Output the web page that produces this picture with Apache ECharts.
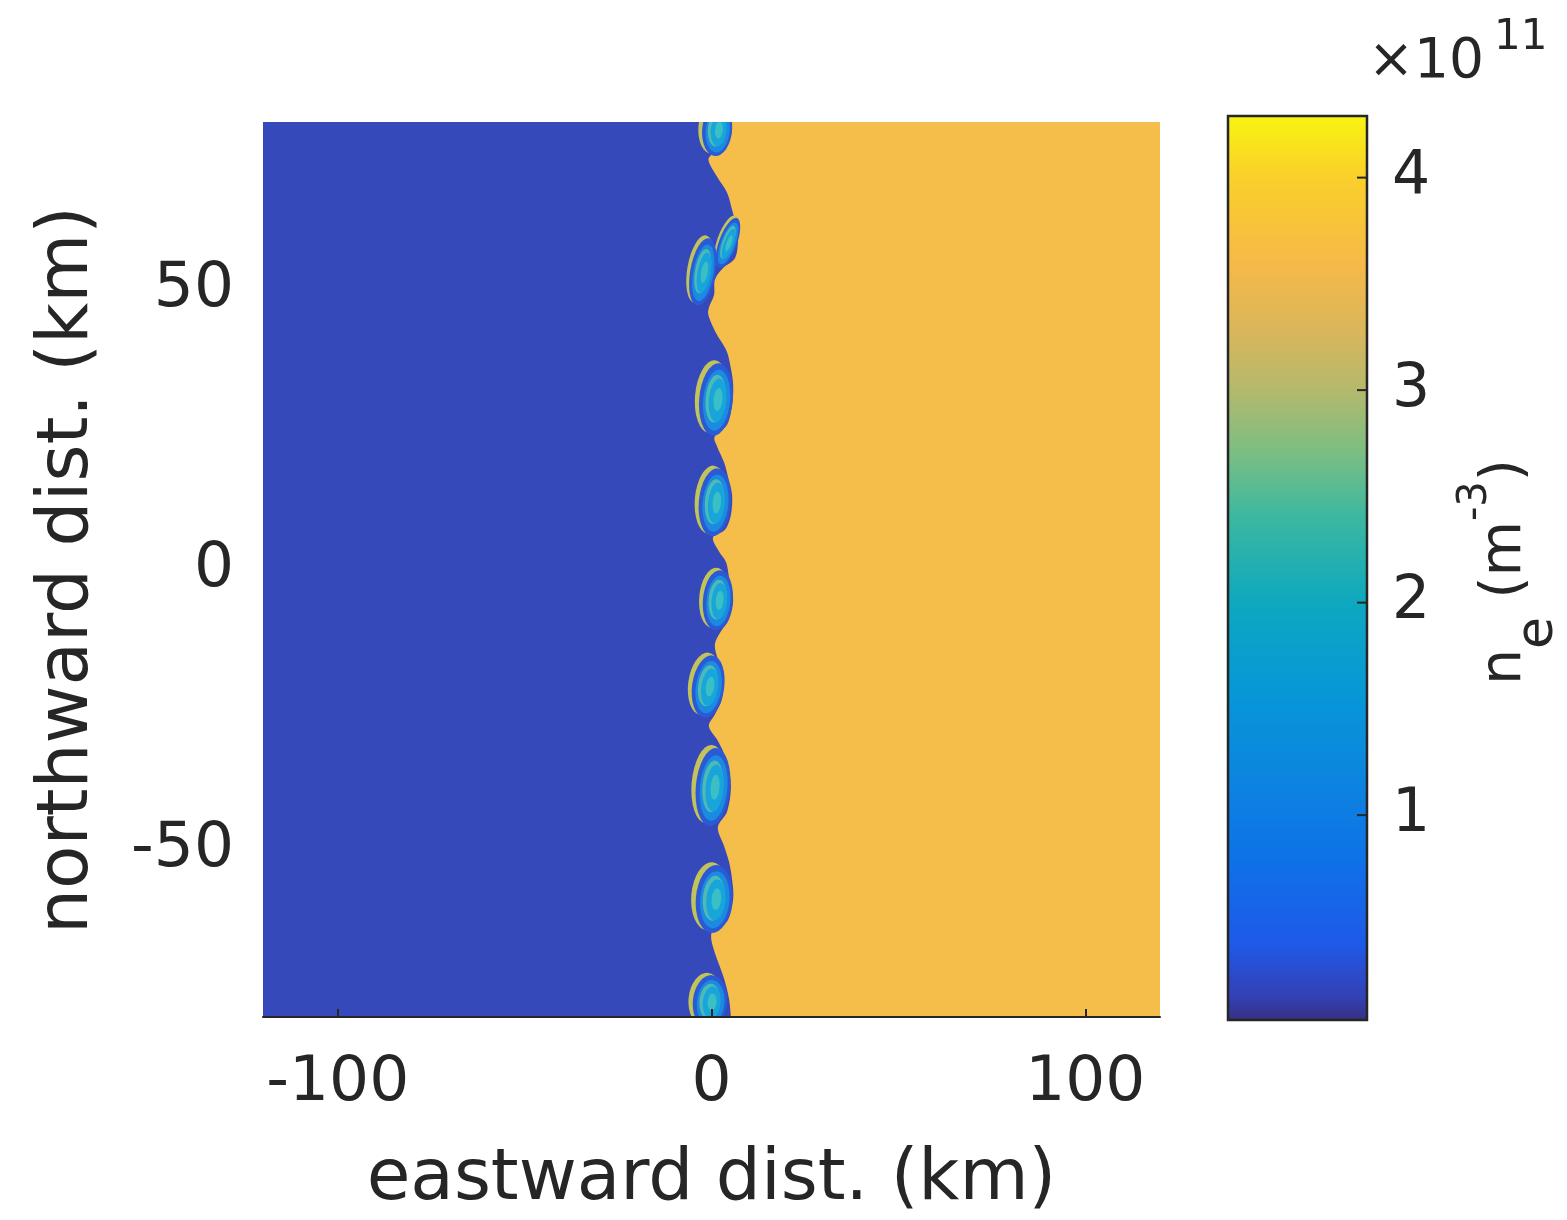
<!DOCTYPE html>
<html><head><meta charset="utf-8">
<script src="https://cdn.jsdelivr.net/npm/echarts@6/dist/echarts.min.js"></script>
<style>html,body{margin:0;padding:0;background:#fff}#c{width:1567px;height:1220px}</style>
</head><body><div id="c"></div>
<script>
// ---- data (km, density in 1e11 m^-3) ----
const xRange = [-120, 120];
const yRange = [-80, 80];
const xTicks = [-100, 0, 100];
const yTicks = [-50, 0, 50];
const cbRange = [0.036, 4.29];
const cbTicks = [1, 2, 3, 4];
// colour bar (value -> colour)
const cbValues = [0.036, 0.15, 0.4, 0.8, 1.2, 1.6, 2.0, 2.4, 2.7, 3.0, 3.3, 3.6, 4.0, 4.29];
const cbColors = ['#36307F', '#3440B5', '#1E5AE8', '#0E72E8', '#0C86DF', '#0798D6', '#0EA8BF', '#3BB8A0', '#7ABE84', '#B4B96C', '#DDB65A', '#F6B947', '#FAD02A', '#F8F510'];
// interface between depleted (west) and dense (east) plasma, north to south
const interfaceX = [5.2,5.2,2.5,-0.1,-0.7,1.5,4.2,5.5,6.6,7.1,6.3,3.1,0.9,0.7,-0.7,-0.7,1.2,3.9,5.0,5.8,5.5,4.2,0.9,1.5,3.4,4.4,5.5,5.2,3.6,0.4,2.0,3.9,4.7,5.8,4.7,2.5,0.9,1.7,3.1,2.8,0.9,-0.7,1.5,3.1,4.4,5.2,4.2,1.7,3.4,4.7,5.5,5.8,4.2,-0.1,3.4,4.7,5.2];
const interfaceY = [80,77.7,75.4,74.1,72.9,70.2,67.3,64.3,61.6,58.9,55.7,53.9,51.8,49.1,46.8,45.2,42.3,39.3,36.6,33.0,29.5,25.9,23.8,22.0,19.1,16.6,13.4,9.8,7.1,5.7,3.2,1.3,-1.4,-5.4,-8.9,-11.1,-13.4,-16.1,-19.6,-23.2,-25.9,-28.0,-30.4,-32.5,-34.8,-38.9,-43.2,-46.1,-49.5,-52.3,-55.4,-58.9,-62.9,-65.5,-73.2,-76.8,-80];
// Kelvin-Helmholtz vortices: centre, semi-axes (km) and tilt (deg)
const vortexX = [1.5, 4.4, -2.3, 1.2, 0.9, 1.7, -0.9, 0.4, 0.7, -0.4];
const vortexY = [78.6, 58.4, 53.2, 30.4, 12.0, -5.5, -20.9, -38.9, -58.9, -77.3];
const vortexRx = [4.0, 2.4, 3.4, 4.5, 4.3, 4.0, 4.3, 4.6, 4.9, 4.6];
const vortexRy = [4.7, 4.7, 6.1, 6.5, 6.1, 5.4, 5.6, 7.0, 6.1, 4.8];
const vortexTilt = [5, 20, 10, 5, 5, 5, 8, 5, 5, 5];

// ---- styles ----
const FONT = 'DejaVu Sans';
const TXT = '#262626';
const westColor = '#3549BA', eastColor = '#F5BD4A';
const rimColor = '#C4C25A', ringColor = '#2A5BD5', midColor = '#1A8BE0', innerColor = '#18A6DA', coreColor = '#3BBFC6', armColor = '#4FB9B6';

function smoothPath(pts) {
  let d = '';
  for (let i = 0; i < pts.length - 1; i++) {
    const p0 = pts[Math.max(i - 1, 0)], p1 = pts[i], p2 = pts[i + 1], p3 = pts[Math.min(i + 2, pts.length - 1)];
    const c1 = [p1[0] + (p2[0] - p0[0]) / 6, p1[1] + (p2[1] - p0[1]) / 6];
    const c2 = [p2[0] - (p3[0] - p1[0]) / 6, p2[1] - (p3[1] - p1[1]) / 6];
    d += ' C' + c1[0] + ',' + c1[1] + ' ' + c2[0] + ',' + c2[1] + ' ' + p2[0] + ',' + p2[1];
  }
  return d;
}

const chart = echarts.init(document.getElementById('c'));
const vortexData = vortexX.map((x, i) => [x, vortexY[i], vortexRx[i], vortexRy[i], vortexTilt[i]]);

const option = {
  animation: false,
  backgroundColor: '#ffffff',
  grid: [
    {left: 263, top: 122, width: 897, height: 895},
    {left: 1228, top: 116, width: 139, height: 904}
  ],
  xAxis: [
    {gridIndex: 0, type: 'value', min: xRange[0], max: xRange[1], z: 10,
     axisLine: {show: true, onZero: false, lineStyle: {color: TXT, width: 2}},
     axisTick: {show: true, inside: true, length: 8, customValues: xTicks, lineStyle: {color: TXT, width: 2}},
     axisLabel: {customValues: xTicks, fontSize: 63, fontFamily: FONT, color: TXT, margin: 35},
     splitLine: {show: false}},
    {gridIndex: 1, type: 'value', min: 0, max: 1, show: false}
  ],
  yAxis: [
    {gridIndex: 0, type: 'value', min: yRange[0], max: yRange[1],
     axisLine: {show: false}, axisTick: {show: false},
     axisLabel: {customValues: yTicks, fontSize: 63, fontFamily: FONT, color: TXT, margin: 29},
     splitLine: {show: false}},
    {gridIndex: 1, type: 'value', position: 'right', min: cbRange[0], max: cbRange[1],
     axisLine: {show: false}, axisTick: {show: false},
     axisLabel: {customValues: cbTicks, fontSize: 60, fontFamily: FONT, color: TXT, margin: 25},
     splitLine: {show: false}}
  ],
  series: [
    {
      type: 'custom', xAxisIndex: 0, yAxisIndex: 0, clip: true, silent: true, z: 1,
      data: [[0, 0]],
      renderItem: function (params, api) {
        const tl = api.coord([xRange[0], yRange[1]]);
        const br = api.coord([xRange[1], yRange[0]]);
        const bl = api.coord([xRange[0], yRange[0]]);
        const pts = interfaceX.map((x, i) => api.coord([x, interfaceY[i]]));
        const d = 'M' + tl[0] + ',' + tl[1] + ' L' + pts[0][0] + ',' + pts[0][1] + smoothPath(pts) + ' L' + bl[0] + ',' + bl[1] + ' Z';
        return {type: 'group', children: [
          {type: 'rect', shape: {x: tl[0], y: tl[1], width: br[0] - tl[0], height: br[1] - tl[1]}, style: {fill: eastColor}},
          {type: 'path', shape: {pathData: d}, style: {fill: westColor}}
        ]};
      }
    },
    {
      type: 'custom', xAxisIndex: 0, yAxisIndex: 0, clip: true, silent: true, z: 2,
      data: vortexData,
      encode: {x: 0, y: 1},
      renderItem: function (params, api) {
        const c = api.coord([api.value(0), api.value(1)]);
        const s = api.size([api.value(2), api.value(3)]);
        const a = s[0], b = s[1];
        const ell = (dx, dy, sx, sy, fill) => ({type: 'circle', x: dx * a, y: dy * b, scaleX: sx * a, scaleY: sy * b,
          shape: {cx: 0, cy: 0, r: 1}, style: {fill: fill}});
        return {type: 'group', x: c[0], y: c[1], rotation: -api.value(4) * Math.PI / 180, children: [
          ell(-0.26, -0.07, 1.0, 1.0, rimColor),
          ell(0, 0, 1, 1, ringColor),
          ell(0.04, 0.02, 0.8, 0.84, midColor),
          ell(-0.02, -0.02, 0.6, 0.66, armColor),
          ell(0.1, 0.02, 0.52, 0.6, innerColor),
          ell(0.12, 0, 0.26, 0.32, coreColor)
        ]};
      }
    },
    {
      type: 'custom', xAxisIndex: 1, yAxisIndex: 1, silent: true, z: 2,
      data: [[0, cbRange[0]]],
      renderItem: function (params, api) {
        const p0 = api.coord([0, cbRange[0]]);
        const p1 = api.coord([1, cbRange[1]]);
        const span = cbRange[1] - cbRange[0];
        const stops = cbValues.map((v, i) => ({offset: (v - cbRange[0]) / span, color: cbColors[i]}));
        const children = [{type: 'rect', shape: {x: p0[0], y: p1[1], width: p1[0] - p0[0], height: p0[1] - p1[1]},
          style: {fill: new echarts.graphic.LinearGradient(0, 1, 0, 0, stops), stroke: TXT, lineWidth: 2.5}}];
        cbTicks.forEach(t => {
          const q = api.coord([1, t]);
          children.push({type: 'line', shape: {x1: q[0] - 10, y1: q[1], x2: q[0], y2: q[1]}, style: {stroke: TXT, lineWidth: 2}});
        });
        return {type: 'group', children: children};
      }
    }
  ],
  graphic: [
    {type: 'text', x: 711.5, y: 1181, style: {text: 'eastward dist. (km)', fontSize: 71, fontFamily: FONT, fill: TXT, align: 'center', verticalAlign: 'middle'}},
    {type: 'text', x: 69, y: 570, rotation: Math.PI / 2, style: {text: 'northward dist. (km)', fontSize: 71, fontFamily: FONT, fill: TXT, align: 'center', verticalAlign: 'middle'}},
    {type: 'text', x: 1368, y: 63, style: {text: '{a|×10}{b|11}', fontSize: 55, fontFamily: FONT, fill: TXT, align: 'left', verticalAlign: 'middle',
      rich: {a: {fontSize: 55, fontFamily: FONT, fill: TXT}, b: {fontSize: 42, fontFamily: FONT, fill: TXT, padding: [0, 0, 50, 10]}}}},
    {type: 'text', x: 1505, y: 572, rotation: Math.PI / 2, style: {text: '{m|n}{s|e}{m| (m}{p|-3}{m|)}', fontSize: 57, fontFamily: FONT, fill: TXT, align: 'center', verticalAlign: 'middle',
      rich: {m: {fontSize: 57, fontFamily: FONT, fill: TXT}, s: {fontSize: 52, fontFamily: FONT, fill: TXT, padding: [66, 0, 0, 0]}, p: {fontSize: 40, fontFamily: FONT, fill: TXT, padding: [0, 0, 58, 0]}}}}
  ]
};
chart.setOption(option);
</script></body></html>
